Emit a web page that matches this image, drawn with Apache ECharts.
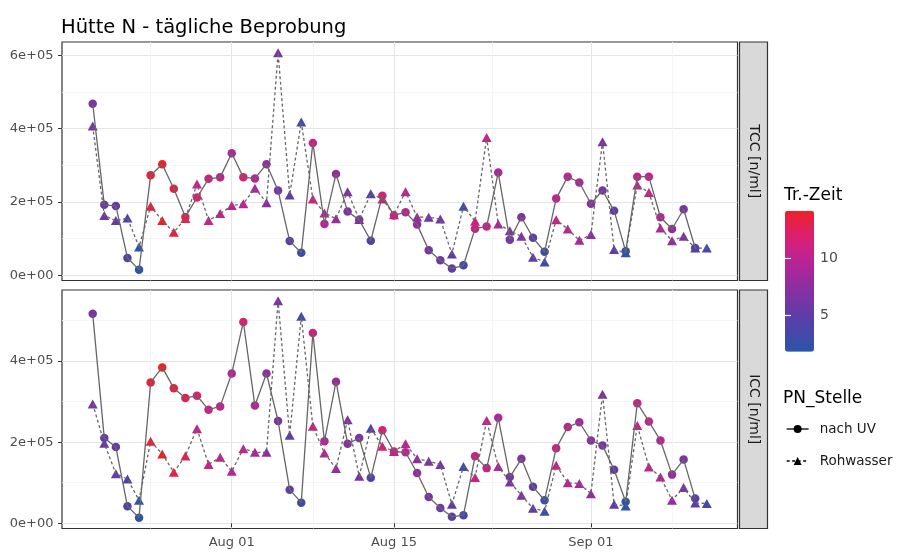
<!DOCTYPE html>
<html><head><meta charset="utf-8">
<script src="https://cdn.jsdelivr.net/npm/echarts@6/dist/echarts.min.js"></script>
<style>html,body{margin:0;padding:0;background:#fff}#c{width:897px;height:552px}</style>
</head><body><div id="c"></div>
<script>
// ---------------- data ----------------
const dates = [
  '2019-07-20','2019-07-21','2019-07-22','2019-07-23','2019-07-24','2019-07-25','2019-07-26','2019-07-27',
  '2019-07-28','2019-07-29','2019-07-30','2019-07-31','2019-08-01','2019-08-02','2019-08-03','2019-08-04',
  '2019-08-05','2019-08-06','2019-08-07','2019-08-08','2019-08-09','2019-08-10','2019-08-11','2019-08-12',
  '2019-08-13','2019-08-14','2019-08-15','2019-08-16','2019-08-17','2019-08-18','2019-08-19','2019-08-20',
  '2019-08-21','2019-08-22','2019-08-23','2019-08-24','2019-08-25','2019-08-26','2019-08-27','2019-08-28',
  '2019-08-29','2019-08-30','2019-08-31','2019-09-01','2019-09-02','2019-09-03','2019-09-04','2019-09-05',
  '2019-09-06','2019-09-07','2019-09-08','2019-09-09','2019-09-10','2019-09-11'
];
const tccNachUV = [
  468000,192000,189000,47000,15000,273000,303000,236000,159000,212000,263000,267000,333000,267000,264000,303000,
  231000,93000,61000,361000,140000,276000,174000,151000,94000,217000,163000,172000,138000,68000,41000,18000,
  27000,127000,133000,280000,97000,158000,102000,64000,209000,269000,253000,195000,231000,176000,65000,269000,
  269000,158000,126000,180000,74000,null
];
const tccRohwasser = [
  407000,163000,149000,156000,77000,188000,149000,117000,155000,249000,149000,168000,190000,195000,237000,198000,
  607000,219000,418000,208000,170000,154000,228000,152000,222000,208000,165000,228000,159000,158000,153000,58000,
  188000,147000,376000,140000,121000,106000,49000,36000,151000,126000,95000,111000,364000,70000,61000,246000,
  226000,129000,94000,106000,74000,74000
];
const iccNachUV = [
  516000,210000,188000,42000,14000,347000,384000,333000,309000,314000,280000,288000,369000,496000,290000,369000,
  252000,83000,51000,469000,202000,349000,196000,210000,112000,229000,177000,175000,124000,65000,38000,16000,
  20000,165000,136000,260000,114000,159000,90000,57000,185000,237000,249000,204000,192000,132000,53000,296000,
  251000,204000,120000,157000,61000,null
];
const iccRohwasser = [
  294000,197000,122000,109000,57000,202000,171000,126000,166000,233000,145000,163000,128000,184000,175000,175000,
  548000,217000,510000,239000,173000,135000,255000,116000,234000,190000,177000,196000,159000,153000,145000,47000,
  140000,113000,253000,140000,102000,69000,37000,30000,143000,100000,98000,73000,318000,47000,43000,241000,
  139000,114000,57000,88000,50000,49000
];
const trZeitNachUV = [
  6.5,5.5,5.5,4.0,1.86,13.5,14.15,13.5,13.0,12.0,11.0,10.5,9.5,12.0,9.5,7.5,
  6.5,5.0,3.0,11.0,9.5,8.0,7.0,6.5,4.0,11.5,11.0,10.0,8.0,6.5,6.0,5.0,
  3.5,11.0,10.5,9.0,6.5,7.0,5.0,2.8,10.5,10.0,9.0,7.5,6.5,5.0,2.2,10.5,
  10.5,9.5,8.0,6.5,4.5,3.5
];
const trZeitRohwasser = [
  6.5,5.5,5.5,4.0,1.86,13.5,14.15,13.5,13.0,10.5,10.5,10.0,10.0,10.0,9.0,7.5,
  6.5,5.0,3.0,11.0,9.5,8.0,7.0,6.5,4.0,11.5,11.0,10.0,8.0,6.5,6.0,5.0,
  3.5,11.0,10.5,9.0,6.5,7.0,5.0,2.8,10.5,10.0,9.0,7.5,6.5,5.0,2.2,10.5,
  10.5,9.5,8.0,6.5,4.5,3.5
];
const yTicksTCC = [0, 200000, 400000, 600000];
const yTicksICC = [0, 200000, 400000];
const yMinorTicks = [100000, 300000, 500000];
const xTickLabels = ['2019-08-01', '2019-08-15', '2019-09-01'];
const xMinorTicks = ['2019-07-25', '2019-08-08', '2019-08-23 12', '2019-09-08'];
const colorbarTicks = [5, 10];
const MONTHS = ['Jan','Feb','Mar','Apr','May','Jun','Jul','Aug','Sep','Oct','Nov','Dec'];

// ---------------- helpers ----------------
function toTime(s) {
  const p = s.split(/[- ]/).map(Number);
  return Date.UTC(p[0], p[1] - 1, p[2], p[3] || 0);
}
const T = dates.map(toTime);
const span = T[T.length - 1] - T[0];
const xMin = T[0] - 0.05 * span, xMax = T[T.length - 1] + 0.05 * span;
function yRange(a, b) {
  const v = a.concat(b).filter(x => x != null);
  const lo = Math.min(...v), hi = Math.max(...v), r = hi - lo;
  return [lo - 0.05 * r, hi + 0.05 * r];
}
const tccR = yRange(tccNachUV, tccRohwasser);
const iccR = yRange(iccNachUV, iccRohwasser);
const allTr = trZeitNachUV.concat(trZeitRohwasser);
const trMin = Math.min(...allTr), trMax = Math.max(...allTr);
const lineData = vals => vals.map((v, i) => [T[i], v]);
const pointData = (vals, tz) => vals.map((v, i) => v == null ? null : [T[i], v, tz[i]]).filter(Boolean);
const fmtDate = v => { const d = new Date(v); return MONTHS[d.getUTCMonth()] + ' ' + String(d.getUTCDate()).padStart(2, '0'); };
const fmtSci = v => v === 0 ? '0e+00' : Math.round(v / 1e5) + 'e+05';

const FONT = 'DejaVu Sans';
const MAJOR = '#e5e5e5', MINOR = '#f2f2f2';
const LINE = '#666666';

function xAxisPair(gridIndex, withLabels) {
  return [
    { type: 'value', gridIndex, min: xMin, max: xMax,
      axisLine: { show: false },
      axisTick: { show: withLabels, length: 4, lineStyle: { color: '#333', width: 1 }, customValues: xTickLabels.map(toTime) },
      axisLabel: { show: withLabels, customValues: xTickLabels.map(toTime), formatter: fmtDate, margin: 8, fontSize: 13, color: '#4d4d4d', fontFamily: FONT },
      splitLine: { show: true, lineStyle: { color: MAJOR, width: 1 } } },
    { type: 'value', gridIndex, min: xMin, max: xMax,
      axisLine: { show: false },
      axisTick: { show: false, customValues: xMinorTicks.map(toTime) },
      axisLabel: { show: false },
      splitLine: { show: true, lineStyle: { color: MINOR, width: 0.8 } } }
  ];
}
function yAxisPair(gridIndex, range, ticks) {
  return [
    { type: 'value', gridIndex, min: range[0], max: range[1],
      axisLine: { show: false },
      axisTick: { show: true, length: 4, lineStyle: { color: '#333', width: 1 }, customValues: ticks },
      axisLabel: { customValues: ticks, formatter: fmtSci, margin: 8.5, fontSize: 13, color: '#4d4d4d', fontFamily: FONT },
      splitLine: { show: true, lineStyle: { color: MAJOR, width: 1 } } },
    { type: 'value', gridIndex, min: range[0], max: range[1],
      axisLine: { show: false },
      axisTick: { show: false, customValues: yMinorTicks },
      axisLabel: { show: false },
      splitLine: { show: true, lineStyle: { color: MINOR, width: 0.8 } } }
  ];
}
function lineSeries(name, xi, yi, vals, dashed) {
  return { type: 'line', name, xAxisIndex: xi, yAxisIndex: yi, data: lineData(vals),
    symbol: dashed ? 'triangle' : 'circle', showSymbol: false, silent: true,
    lineStyle: { color: LINE, width: 1.3, type: dashed ? [3, 2.5] : 'solid' },
    itemStyle: { color: LINE }, emphasis: { disabled: true } };
}
function pointSeries(name, xi, yi, vals, tz, tri) {
  return { type: 'scatter', name, xAxisIndex: xi, yAxisIndex: yi, data: pointData(vals, tz),
    symbol: tri ? 'triangle' : 'circle', symbolSize: tri ? [10, 9] : 8.5, silent: true,
    itemStyle: { opacity: 1 }, emphasis: { disabled: true } };
}

const grids = [
  { left: 62, top: 42, width: 675.5, height: 238.5 },
  { left: 62, top: 290, width: 675.5, height: 238.5 }
];

const option = {
  animation: false,
  backgroundColor: '#fff',
  textStyle: { fontFamily: FONT },
  title: [
    { text: 'Hütte N - tägliche Beprobung', left: 61, top: 16, padding: 0,
      textStyle: { fontSize: 19.5, fontWeight: 'normal', color: '#000', lineHeight: 24, fontFamily: FONT } },
    { text: 'Tr.-Zeit', left: 784, top: 186, padding: 0,
      textStyle: { fontSize: 17, fontWeight: 'normal', color: '#000', lineHeight: 20, fontFamily: FONT } },
    { text: 'PN_Stelle', left: 783, top: 389, padding: 0,
      textStyle: { fontSize: 17, fontWeight: 'normal', color: '#000', lineHeight: 20, fontFamily: FONT } }
  ],
  grid: [
    Object.assign({ show: true, backgroundColor: '#fff', borderColor: '#333', borderWidth: 1.2, outerBoundsMode: 'none' }, grids[0]),
    Object.assign({ show: true, backgroundColor: '#fff', borderColor: '#333', borderWidth: 1.2, outerBoundsMode: 'none' }, grids[1]),
    { left: 785, top: 210.7, width: 29, height: 141, show: false, outerBoundsMode: 'none' }
  ],
  xAxis: [].concat(
    xAxisPair(0, false),
    xAxisPair(1, true),
    [{ type: 'value', gridIndex: 2, show: false, min: 0, max: 1 }]
  ),
  yAxis: [].concat(
    yAxisPair(0, tccR, yTicksTCC),
    yAxisPair(1, iccR, yTicksICC),
    [
      { type: 'value', gridIndex: 2, position: 'right', min: trMin, max: trMax, z: 10,
        axisLine: { show: false },
        axisTick: { show: true, inside: true, length: 6, lineStyle: { color: '#fff', width: 1.2 }, customValues: colorbarTicks },
        axisLabel: { customValues: colorbarTicks, margin: 6, fontSize: 14, color: '#4d4d4d', fontFamily: FONT },
        splitLine: { show: false } },
      { type: 'value', gridIndex: 2, position: 'left', min: trMin, max: trMax, z: 10,
        axisLine: { show: false },
        axisTick: { show: true, inside: true, length: 6, lineStyle: { color: '#fff', width: 1.2 }, customValues: colorbarTicks },
        axisLabel: { show: false },
        splitLine: { show: false } }
    ]
  ),
  visualMap: {
    type: 'continuous', min: trMin, max: trMax, dimension: 2, seriesIndex: [4, 5, 6, 7],
    calculable: false, orient: 'vertical', left: 785, top: 210.7, padding: 0,
    itemWidth: 29, itemHeight: 141, text: null, hoverLink: false,
    inRange: { color: ['#2b55a8', '#4c44aa', '#7037a6', '#962c9f', '#bf2392', '#dd1f6c', '#ec2226'] }
  },
  legend: {
    data: ['nach UV', 'Rohwasser'], orient: 'vertical', left: 786, top: 422, padding: 0,
    itemWidth: 22, itemHeight: 10, itemGap: 18, selectedMode: false,
    itemStyle: { color: '#000' }, lineStyle: { color: '#000', width: 1.3 },
    textStyle: { fontSize: 13.5, color: '#1a1a1a', fontFamily: FONT, lineHeight: 10, padding: [0, 0, 0, 6] }
  },
  graphic: [
    { type: 'rect', shape: { x: 739.5, y: 42, width: 28, height: 238.5 }, style: { fill: '#d9d9d9', stroke: '#333', lineWidth: 1.2 }, silent: true },
    { type: 'text', x: 753.5, y: 161.25, rotation: -Math.PI / 2, silent: true,
      style: { text: 'TCC [n/ml]', fill: '#1a1a1a', fontSize: 14, fontFamily: FONT, align: 'center', verticalAlign: 'middle' } },
    { type: 'rect', shape: { x: 739.5, y: 290, width: 28, height: 238.5 }, style: { fill: '#d9d9d9', stroke: '#333', lineWidth: 1.2 }, silent: true },
    { type: 'text', x: 753.5, y: 409.25, rotation: -Math.PI / 2, silent: true,
      style: { text: 'ICC [n/ml]', fill: '#1a1a1a', fontSize: 14, fontFamily: FONT, align: 'center', verticalAlign: 'middle' } }
  ],
  series: [
    lineSeries('nach UV', 0, 0, tccNachUV, false),
    lineSeries('Rohwasser', 0, 0, tccRohwasser, true),
    lineSeries('nach UV', 2, 2, iccNachUV, false),
    lineSeries('Rohwasser', 2, 2, iccRohwasser, true),
    pointSeries('Rohwasser', 0, 0, tccRohwasser, trZeitRohwasser, true),
    pointSeries('nach UV', 0, 0, tccNachUV, trZeitNachUV, false),
    pointSeries('Rohwasser', 2, 2, iccRohwasser, trZeitRohwasser, true),
    pointSeries('nach UV', 2, 2, iccNachUV, trZeitNachUV, false)
  ]
};

const chart = echarts.init(document.getElementById('c'), null, { renderer: 'canvas' });
chart.setOption(option);
</script>
</body></html>
